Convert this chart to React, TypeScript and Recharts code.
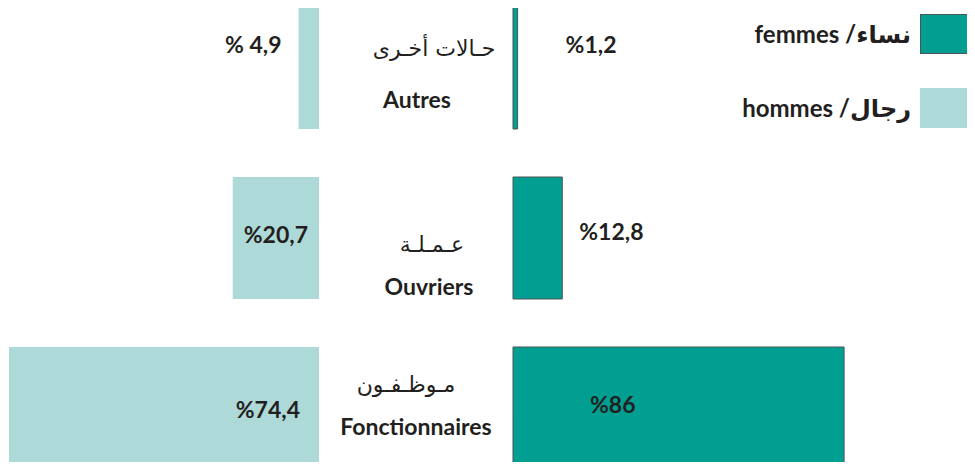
import { Bar, BarChart, LabelList, XAxis, YAxis } from 'recharts'

const categories = ['Autres', 'Ouvriers', 'Fonctionnaires']
const arabicCategories = ['حـالات أخـرى', 'عـمـلـة', 'مـوظـفـون']
const men = [4.9, 20.7, 74.4]
const women = [1.2, 12.8, 86]
const menLabels = ['% 4,9', '%20,7', '%74,4']
const womenLabels = ['%1,2', '%12,8', '%86']
const seriesNames = ['femmes /نساء', 'hommes /رجال']

const data = categories.map((name, i) => ({
  name,
  arabic: arabicCategories[i],
  men: men[i],
  women: women[i],
  menLabel: menLabels[i],
  womenLabel: womenLabels[i],
}))

const WOMEN = '#009F92'
const MEN = '#ADD9D8'
const INK = '#231F20'
const FONT = "Lato, 'DejaVu Sans', sans-serif"

// where each value label sits relative to its bar
const menPlace = [
  { side: 'outsideLeft', dx: 17, dy: -23 },
  { side: 'center', dx: 0, dy: -3 },
  { side: 'insideRight', dx: 19, dy: 2 },
]
const womenPlace = [
  { side: 'outsideRight', dx: 48, dy: -23 },
  { side: 'outsideRight', dx: 17, dy: -6 },
  { side: 'insideLeft', dx: 77, dy: -3 },
]
// [arabic dx, arabic baseline dy, french dx, french baseline dy] from the row centre
const rowText = [
  [18, -12, 1, 40],
  [16, 14, 13, 57],
  [-10, -16, 0, 27],
]

function makeLabel(place: typeof menPlace, labels: string[]) {
  return (props: any) => {
    const { x, y, width, height, index } = props
    const left = Math.min(x, x + width)
    const right = Math.max(x, x + width)
    const p = place[index]
    let tx = (left + right) / 2
    let anchor: 'start' | 'middle' | 'end' = 'middle'
    if (p.side === 'outsideLeft') { tx = left - p.dx; anchor = 'end' }
    if (p.side === 'insideRight') { tx = right - p.dx; anchor = 'end' }
    if (p.side === 'outsideRight') { tx = right + p.dx; anchor = 'start' }
    if (p.side === 'insideLeft') { tx = left + p.dx; anchor = 'start' }
    return (
      <text x={tx} y={y + height / 2 + p.dy} dy={8} textAnchor={anchor}
        fill={INK} fontFamily={FONT} fontWeight={700} fontSize={23}>
        {labels[index]}
      </text>
    )
  }
}

function CategoryTick(props: any) {
  const { y, payload } = props
  const i = payload.index
  const [adx, ady, fdx, fdy] = rowText[i]
  return (
    <g>
      <text x={97 + adx} y={y + ady} textAnchor="middle" fill={INK}
        fontFamily="'DejaVu Sans', sans-serif" fontSize={22}>
        {arabicCategories[i]}
      </text>
      <text x={97 + fdx} y={y + fdy} textAnchor="middle" fill={INK}
        fontFamily={FONT} fontWeight={700} fontSize={23}>
        {payload.value}
      </text>
    </g>
  )
}

function LegendItem({ label, color, stroke, top }: { label: string; color: string; stroke?: string; top: number }) {
  return (
    <div style={{ position: 'absolute', top, right: 5, display: 'flex', alignItems: 'center' }}>
      <span style={{ fontFamily: FONT, fontWeight: 700, fontSize: 24, color: INK, marginRight: 9, direction: 'ltr', unicodeBidi: 'plaintext' }}>
        {label}
      </span>
      <span style={{ width: 50, height: 40, background: color, boxSizing: 'border-box', border: stroke ? `1px solid ${stroke}` : 'none' }} />
    </div>
  )
}

export default function App() {
  return (
    <div style={{ position: 'relative', width: 975, height: 470, margin: -8, overflow: 'hidden', background: '#fff' }}>
      <div style={{ position: 'absolute', left: 0, top: -17 }}>
        <BarChart width={319} height={510} data={data} layout="vertical" barCategoryGap={24}
          margin={{ top: 0, right: 0, bottom: 0, left: 9 }}>
          <XAxis type="number" domain={[0, 74.4]} reversed hide />
          <YAxis type="category" dataKey="name" hide />
          <Bar dataKey="men" fill={MEN} isAnimationActive={false}>
            <LabelList dataKey="menLabel" content={makeLabel(menPlace, menLabels)} />
          </Bar>
        </BarChart>
      </div>
      <div style={{ position: 'absolute', left: 319, top: -17 }}>
        <BarChart width={656} height={510} data={data} layout="vertical" barCategoryGap={24}
          margin={{ top: 0, right: 0, bottom: 0, left: 0 }}>
          <XAxis type="number" domain={[0, 120]} hide />
          <YAxis type="category" dataKey="name" width={194} axisLine={false} tickLine={false}
            tick={<CategoryTick />} interval={0} />
          <Bar dataKey="women" fill={WOMEN} stroke="#4D5557" strokeWidth={1} isAnimationActive={false}>
            <LabelList dataKey="womenLabel" content={makeLabel(womenPlace, womenLabels)} />
          </Bar>
        </BarChart>
      </div>
      <LegendItem label={seriesNames[0]} color={WOMEN} stroke="#4D5557" top={14} />
      <LegendItem label={seriesNames[1]} color={MEN} top={88} />
    </div>
  )
}
